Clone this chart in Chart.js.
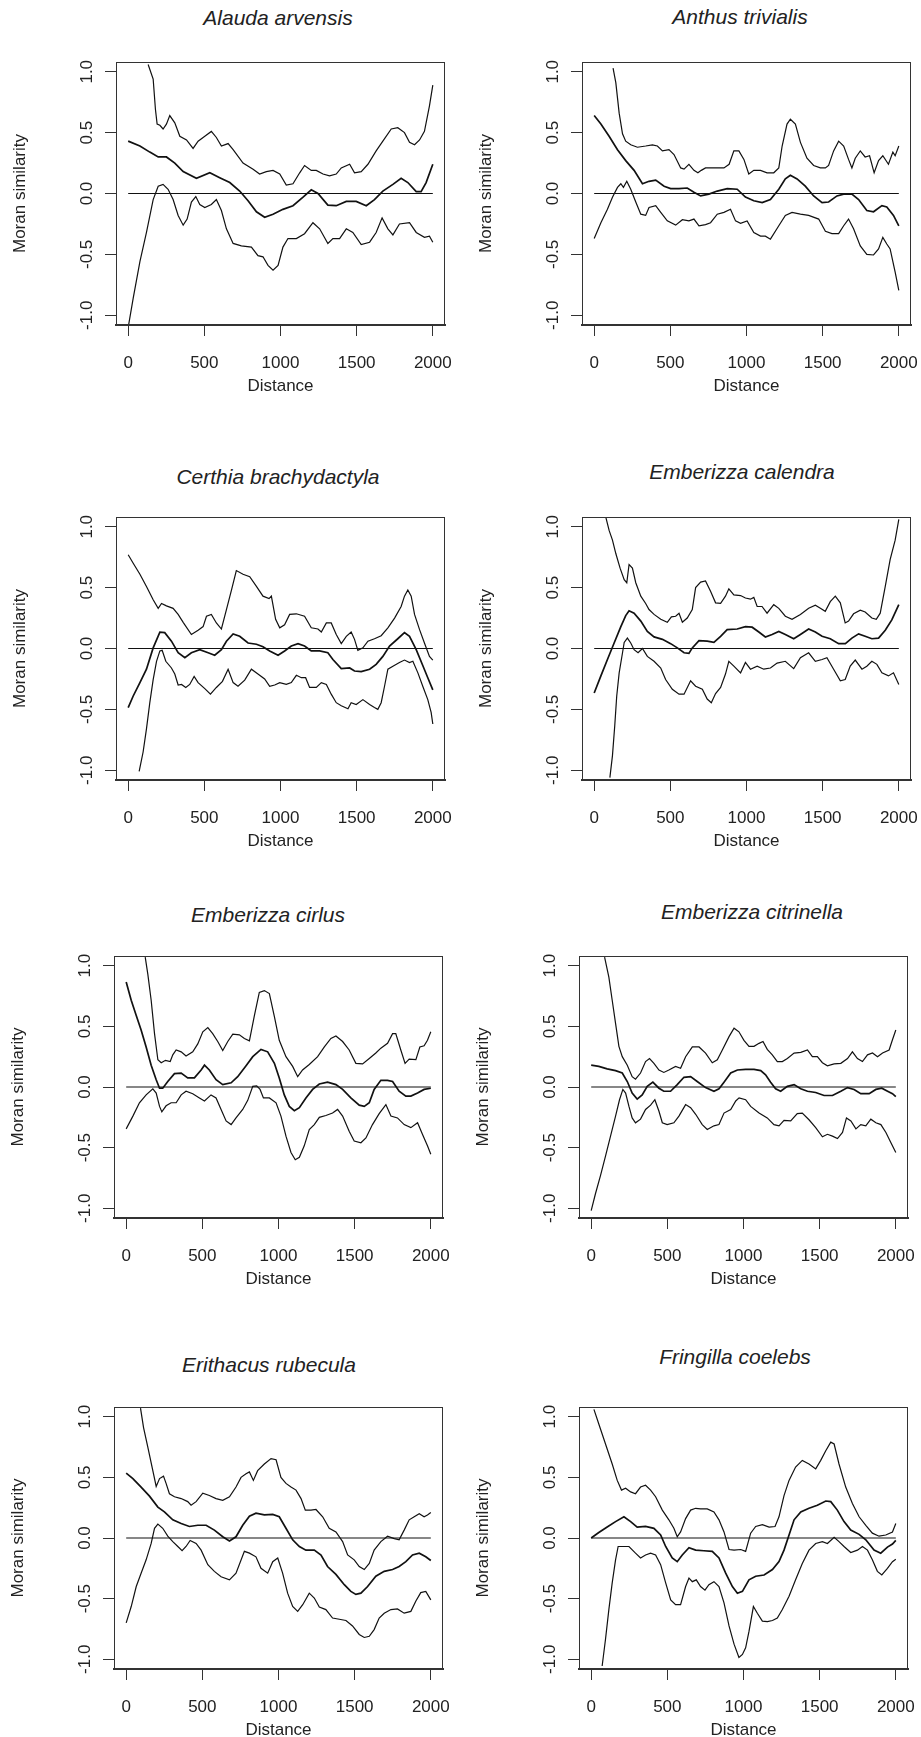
<!DOCTYPE html>
<html><head><meta charset="utf-8">
<script src="https://cdn.jsdelivr.net/npm/chart.js@4.4.1/dist/chart.umd.min.js"></script>
<style>
html,body{margin:0;padding:0;background:#fff;}
body{width:921px;height:1737px;position:relative;overflow:hidden;}
canvas{position:absolute;}
.ttl{position:absolute;width:400px;text-align:center;font:italic 21px 'Liberation Sans',Arial,sans-serif;line-height:24px;color:#222;white-space:nowrap;}
</style></head><body>
<script>
// ---------- data ----------
const species = ['Alauda arvensis','Anthus trivialis','Certhia brachydactyla','Emberizza calendra',
                 'Emberizza cirlus','Emberizza citrinella','Erithacus rubecula','Fringilla coelebs'];
const distanceTicks = [0, 500, 1000, 1500, 2000];
const similarityTicks = [-1, -0.5, 0, 0.5, 1];

// [distance, Moran similarity]
const alaudaUpper = [[131,1.06],[164,0.94],[179,0.69],[190,0.57],[208,0.56],[229,0.53],[251,0.57],[273,0.64],[306,0.58],[339,0.47],[383,0.44],[426,0.37],[459,0.43],[503,0.47],[546,0.51],[579,0.46],[612,0.39],[656,0.41],[689,0.36],[754,0.25],[820,0.20],[863,0.16],[907,0.18],[951,0.19],[995,0.16],[1038,0.07],[1082,0.08],[1126,0.17],[1158,0.23],[1202,0.19],[1235,0.19],[1279,0.16],[1322,0.145],[1366,0.16],[1399,0.21],[1454,0.24],[1486,0.17],[1530,0.18],[1574,0.24],[1628,0.35],[1672,0.43],[1727,0.53],[1770,0.54],[1814,0.50],[1847,0.42],[1880,0.40],[1913,0.44],[1945,0.51],[1978,0.72],[2000,0.89]];
const alaudaMean = [[0,0.43],[77,0.39],[142,0.34],[197,0.30],[251,0.30],[306,0.25],[361,0.18],[448,0.125],[536,0.17],[601,0.13],[667,0.09],[732,0.02],[787,-0.06],[842,-0.15],[896,-0.195],[951,-0.17],[1016,-0.13],[1082,-0.10],[1148,-0.03],[1202,0.03],[1246,0.0],[1311,-0.095],[1366,-0.10],[1432,-0.065],[1497,-0.065],[1563,-0.10],[1617,-0.05],[1672,0.02],[1738,0.075],[1792,0.125],[1836,0.09],[1891,0.015],[1923,0.015],[1956,0.09],[2000,0.24]];
const alaudaLower = [[0,-1.1],[33,-0.86],[77,-0.56],[120,-0.32],[164,-0.05],[197,0.06],[229,0.075],[262,0.035],[295,-0.05],[328,-0.18],[361,-0.26],[387,-0.21],[415,-0.07],[444,-0.025],[470,-0.09],[503,-0.115],[546,-0.09],[579,-0.05],[612,-0.14],[645,-0.29],[689,-0.41],[743,-0.43],[809,-0.44],[852,-0.51],[885,-0.52],[918,-0.59],[951,-0.63],[984,-0.59],[1016,-0.44],[1049,-0.37],[1104,-0.37],[1158,-0.33],[1213,-0.24],[1257,-0.29],[1311,-0.41],[1344,-0.37],[1388,-0.37],[1432,-0.29],[1475,-0.32],[1530,-0.42],[1585,-0.40],[1628,-0.32],[1667,-0.20],[1705,-0.29],[1738,-0.34],[1781,-0.25],[1847,-0.24],[1891,-0.32],[1945,-0.36],[1978,-0.35],[2000,-0.40]];

const anthusUpper = [[124,1.03],[142,0.91],[164,0.66],[186,0.49],[207,0.43],[240,0.40],[284,0.38],[338,0.39],[382,0.40],[415,0.39],[448,0.35],[491,0.36],[524,0.32],[568,0.21],[590,0.20],[622,0.24],[655,0.19],[681,0.17],[703,0.19],[731,0.21],[786,0.21],[852,0.21],[886,0.24],[917,0.35],[950,0.35],[983,0.28],[1015,0.16],[1048,0.19],[1092,0.19],[1135,0.17],[1179,0.17],[1212,0.21],[1234,0.39],[1266,0.57],[1288,0.61],[1321,0.57],[1354,0.42],[1397,0.29],[1441,0.23],[1485,0.21],[1518,0.21],[1539,0.23],[1572,0.35],[1605,0.43],[1638,0.39],[1670,0.28],[1692,0.21],[1714,0.29],[1747,0.35],[1779,0.30],[1808,0.31],[1838,0.17],[1867,0.27],[1895,0.31],[1932,0.24],[1961,0.34],[1976,0.31],[2000,0.39]];
const anthusMean = [[0,0.64],[44,0.57],[98,0.47],[153,0.36],[207,0.27],[262,0.19],[317,0.08],[360,0.10],[404,0.11],[459,0.06],[502,0.04],[557,0.04],[611,0.045],[655,0.01],[699,-0.02],[753,-0.005],[808,0.02],[873,0.04],[939,0.035],[993,-0.03],[1048,-0.06],[1103,-0.075],[1157,-0.05],[1212,0.035],[1255,0.12],[1288,0.15],[1332,0.12],[1386,0.06],[1441,-0.02],[1496,-0.075],[1539,-0.07],[1594,-0.02],[1638,-0.005],[1692,-0.005],[1736,-0.05],[1790,-0.14],[1834,-0.15],[1889,-0.10],[1921,-0.11],[1965,-0.18],[2000,-0.265]];
const anthusLower = [[0,-0.37],[44,-0.24],[87,-0.13],[120,-0.03],[153,0.05],[175,0.08],[192,0.05],[214,0.10],[240,0.035],[273,-0.07],[306,-0.17],[338,-0.18],[360,-0.115],[404,-0.10],[437,-0.155],[480,-0.225],[535,-0.26],[579,-0.215],[622,-0.225],[655,-0.21],[688,-0.265],[731,-0.255],[764,-0.24],[808,-0.17],[852,-0.155],[895,-0.13],[928,-0.225],[961,-0.245],[1004,-0.225],[1048,-0.32],[1092,-0.35],[1124,-0.35],[1157,-0.375],[1212,-0.265],[1255,-0.18],[1299,-0.155],[1354,-0.17],[1408,-0.18],[1474,-0.21],[1518,-0.31],[1561,-0.33],[1605,-0.33],[1638,-0.265],[1670,-0.21],[1703,-0.29],[1747,-0.43],[1790,-0.50],[1834,-0.505],[1867,-0.455],[1895,-0.36],[1921,-0.415],[1943,-0.455],[1976,-0.645],[2000,-0.795]];

const certhiaUpper = [[0,0.77],[33,0.70],[77,0.61],[120,0.51],[164,0.40],[197,0.33],[219,0.37],[251,0.35],[295,0.33],[328,0.28],[361,0.215],[415,0.115],[459,0.15],[492,0.18],[514,0.265],[546,0.28],[579,0.21],[612,0.16],[645,0.32],[678,0.48],[710,0.64],[754,0.61],[798,0.59],[842,0.51],[885,0.43],[925,0.41],[940,0.43],[968,0.24],[995,0.17],[1027,0.195],[1060,0.28],[1104,0.285],[1158,0.265],[1202,0.17],[1246,0.16],[1268,0.135],[1301,0.21],[1333,0.21],[1366,0.115],[1399,0.04],[1432,0.10],[1464,0.135],[1486,0.075],[1508,-0.015],[1541,0.005],[1574,0.06],[1617,0.08],[1661,0.105],[1705,0.17],[1749,0.25],[1792,0.345],[1814,0.43],[1836,0.48],[1858,0.43],[1880,0.28],[1913,0.155],[1945,0.045],[1978,-0.065],[2000,-0.095]];
const certhiaMean = [[0,-0.485],[33,-0.39],[77,-0.28],[120,-0.17],[164,0.005],[208,0.135],[240,0.13],[284,0.06],[328,-0.035],[372,-0.075],[415,-0.035],[470,-0.01],[525,-0.035],[568,-0.055],[612,-0.01],[645,0.06],[689,0.12],[732,0.10],[787,0.045],[842,0.035],[885,0.015],[929,-0.02],[984,-0.055],[1027,-0.02],[1071,0.02],[1115,0.04],[1158,0.02],[1202,-0.02],[1257,-0.02],[1311,-0.035],[1344,-0.09],[1399,-0.165],[1454,-0.16],[1486,-0.185],[1530,-0.19],[1585,-0.17],[1628,-0.13],[1672,-0.065],[1716,0.02],[1770,0.08],[1814,0.13],[1847,0.10],[1891,-0.01],[1934,-0.14],[1967,-0.24],[2000,-0.34]];
const certhiaLower = [[72,-1.01],[98,-0.85],[120,-0.66],[142,-0.445],[164,-0.255],[186,-0.105],[208,-0.02],[223,-0.015],[247,-0.105],[284,-0.16],[306,-0.21],[328,-0.30],[350,-0.295],[378,-0.32],[404,-0.295],[433,-0.23],[459,-0.28],[503,-0.33],[540,-0.375],[579,-0.32],[619,-0.27],[656,-0.17],[689,-0.28],[721,-0.31],[765,-0.26],[809,-0.17],[852,-0.21],[896,-0.25],[929,-0.31],[962,-0.30],[995,-0.28],[1038,-0.295],[1071,-0.28],[1104,-0.22],[1137,-0.24],[1165,-0.24],[1191,-0.32],[1235,-0.32],[1268,-0.28],[1301,-0.295],[1333,-0.375],[1366,-0.445],[1399,-0.47],[1443,-0.495],[1464,-0.445],[1497,-0.46],[1541,-0.42],[1585,-0.46],[1617,-0.485],[1639,-0.50],[1661,-0.445],[1683,-0.31],[1705,-0.17],[1738,-0.145],[1781,-0.115],[1814,-0.095],[1847,-0.115],[1869,-0.105],[1902,-0.20],[1934,-0.31],[1967,-0.42],[1989,-0.525],[2000,-0.62]];

const calendraUpper = [[72,1.1],[98,0.97],[120,0.89],[142,0.78],[170,0.66],[197,0.565],[214,0.54],[229,0.69],[251,0.66],[273,0.54],[306,0.43],[338,0.37],[360,0.32],[393,0.28],[437,0.24],[480,0.215],[507,0.26],[535,0.265],[557,0.29],[579,0.215],[611,0.25],[644,0.32],[666,0.50],[699,0.545],[731,0.555],[764,0.47],[797,0.375],[830,0.37],[862,0.43],[884,0.49],[917,0.44],[961,0.435],[993,0.415],[1026,0.405],[1048,0.42],[1070,0.345],[1102,0.345],[1135,0.29],[1179,0.36],[1212,0.33],[1255,0.265],[1299,0.24],[1354,0.28],[1408,0.33],[1452,0.355],[1485,0.33],[1517,0.305],[1550,0.385],[1583,0.43],[1616,0.375],[1648,0.21],[1670,0.225],[1703,0.285],[1747,0.315],[1779,0.30],[1823,0.25],[1852,0.24],[1878,0.29],[1911,0.51],[1943,0.73],[1976,0.89],[2000,1.06]];
const calendraMean = [[0,-0.365],[44,-0.225],[87,-0.09],[131,0.045],[175,0.18],[207,0.27],[229,0.31],[262,0.29],[306,0.225],[349,0.14],[393,0.095],[448,0.075],[502,0.04],[546,0.005],[590,-0.035],[622,-0.04],[644,0.005],[688,0.065],[742,0.06],[786,0.05],[830,0.10],[873,0.155],[939,0.16],[993,0.18],[1037,0.175],[1081,0.135],[1124,0.095],[1168,0.115],[1212,0.14],[1255,0.115],[1310,0.08],[1354,0.115],[1408,0.16],[1452,0.135],[1496,0.10],[1550,0.08],[1605,0.04],[1649,0.04],[1692,0.085],[1736,0.12],[1779,0.10],[1823,0.08],[1867,0.085],[1911,0.15],[1954,0.235],[2000,0.36]];
const calendraLower = [[103,-1.06],[120,-0.88],[135,-0.635],[148,-0.39],[164,-0.20],[186,-0.035],[197,0.05],[218,0.085],[240,0.045],[262,-0.01],[288,-0.035],[317,0.0],[349,-0.065],[393,-0.105],[437,-0.16],[469,-0.255],[513,-0.335],[557,-0.375],[590,-0.375],[633,-0.265],[666,-0.31],[710,-0.335],[742,-0.415],[769,-0.445],[797,-0.37],[830,-0.32],[862,-0.21],[884,-0.105],[917,-0.145],[961,-0.20],[993,-0.115],[1026,-0.17],[1070,-0.145],[1113,-0.17],[1157,-0.16],[1201,-0.12],[1255,-0.105],[1310,-0.165],[1354,-0.075],[1408,-0.035],[1452,-0.105],[1496,-0.09],[1528,-0.075],[1572,-0.17],[1616,-0.265],[1648,-0.255],[1681,-0.145],[1714,-0.095],[1758,-0.17],[1790,-0.145],[1823,-0.105],[1856,-0.13],[1889,-0.20],[1932,-0.225],[1965,-0.20],[2000,-0.295]];

const cirlusUpper = [[125,1.07],[142,0.93],[164,0.715],[186,0.44],[208,0.225],[230,0.20],[258,0.22],[289,0.21],[306,0.265],[328,0.305],[361,0.29],[393,0.255],[437,0.29],[470,0.355],[503,0.455],[536,0.49],[568,0.44],[601,0.375],[634,0.30],[667,0.375],[700,0.435],[743,0.43],[776,0.40],[809,0.38],[842,0.59],[874,0.78],[907,0.795],[940,0.77],[973,0.58],[1005,0.385],[1049,0.25],[1093,0.17],[1126,0.085],[1158,0.14],[1202,0.185],[1257,0.25],[1301,0.33],[1344,0.40],[1377,0.42],[1421,0.375],[1464,0.305],[1508,0.195],[1552,0.19],[1596,0.235],[1639,0.28],[1672,0.32],[1716,0.36],[1749,0.44],[1770,0.44],[1803,0.305],[1831,0.195],[1858,0.23],[1902,0.225],[1928,0.33],[1956,0.34],[1978,0.385],[2000,0.455]];
const cirlusMean = [[0,0.865],[33,0.715],[66,0.59],[98,0.47],[131,0.33],[164,0.18],[197,0.06],[219,-0.01],[240,-0.01],[273,0.045],[317,0.11],[361,0.115],[404,0.075],[448,0.075],[492,0.14],[514,0.18],[546,0.14],[590,0.06],[634,0.02],[689,0.035],[732,0.085],[787,0.175],[831,0.25],[885,0.31],[929,0.29],[973,0.195],[1005,0.075],[1038,-0.065],[1071,-0.16],[1104,-0.195],[1137,-0.17],[1180,-0.09],[1224,-0.02],[1268,0.025],[1322,0.04],[1377,0.02],[1421,-0.02],[1475,-0.09],[1530,-0.15],[1563,-0.16],[1596,-0.13],[1628,-0.02],[1672,0.055],[1716,0.055],[1749,0.045],[1792,-0.035],[1836,-0.075],[1869,-0.075],[1913,-0.05],[1956,-0.02],[2000,-0.01]];
const cirlusLower = [[0,-0.345],[44,-0.24],[87,-0.13],[131,-0.065],[175,-0.015],[197,-0.05],[219,-0.16],[234,-0.205],[262,-0.155],[295,-0.13],[328,-0.13],[361,-0.065],[393,-0.035],[437,-0.055],[481,-0.09],[514,-0.115],[557,-0.065],[590,-0.09],[623,-0.185],[656,-0.28],[689,-0.31],[721,-0.255],[765,-0.185],[798,-0.11],[831,0.005],[857,0.01],[879,-0.02],[901,-0.09],[940,-0.09],[984,-0.13],[1016,-0.24],[1049,-0.405],[1082,-0.54],[1110,-0.60],[1137,-0.58],[1169,-0.485],[1202,-0.35],[1235,-0.31],[1268,-0.25],[1311,-0.235],[1355,-0.215],[1388,-0.185],[1421,-0.24],[1464,-0.365],[1497,-0.445],[1541,-0.46],[1574,-0.42],[1617,-0.31],[1661,-0.22],[1705,-0.145],[1738,-0.24],[1781,-0.255],[1825,-0.31],[1869,-0.335],[1913,-0.295],[1945,-0.39],[1978,-0.485],[2000,-0.555]];

const citrinellaUpper = [[88,1.07],[116,0.905],[138,0.715],[160,0.525],[182,0.335],[204,0.25],[237,0.18],[269,0.085],[291,0.065],[324,0.115],[357,0.21],[383,0.235],[412,0.195],[445,0.14],[477,0.12],[510,0.14],[554,0.17],[587,0.155],[620,0.25],[664,0.33],[708,0.33],[751,0.28],[795,0.20],[828,0.225],[861,0.305],[905,0.415],[938,0.485],[970,0.455],[1003,0.385],[1036,0.335],[1069,0.335],[1102,0.36],[1128,0.375],[1156,0.31],[1189,0.265],[1222,0.21],[1255,0.21],[1288,0.235],[1332,0.28],[1376,0.285],[1420,0.305],[1452,0.25],[1485,0.25],[1518,0.20],[1551,0.175],[1595,0.19],[1639,0.195],[1683,0.235],[1715,0.29],[1748,0.235],[1781,0.21],[1814,0.265],[1847,0.28],[1880,0.25],[1913,0.28],[1956,0.305],[1978,0.39],[2000,0.47]];
const citrinellaMean = [[0,0.18],[50,0.17],[105,0.15],[160,0.135],[204,0.115],[237,0.045],[269,-0.05],[302,-0.10],[335,-0.065],[368,0.005],[405,0.04],[445,-0.01],[477,-0.035],[521,-0.035],[565,0.02],[609,0.08],[653,0.085],[696,0.045],[751,-0.005],[806,-0.035],[839,-0.015],[872,0.04],[916,0.115],[960,0.14],[1014,0.145],[1069,0.145],[1113,0.135],[1145,0.10],[1178,0.04],[1211,-0.015],[1244,-0.035],[1288,0.005],[1332,0.02],[1376,-0.015],[1420,-0.035],[1474,-0.045],[1529,-0.07],[1584,-0.07],[1639,-0.035],[1683,-0.005],[1726,-0.02],[1770,-0.055],[1825,-0.055],[1869,-0.02],[1908,-0.01],[1946,-0.035],[1978,-0.055],[2000,-0.08]];
const citrinellaLower = [[0,-1.02],[28,-0.88],[61,-0.73],[94,-0.57],[127,-0.405],[160,-0.24],[186,-0.105],[208,-0.02],[226,-0.05],[248,-0.16],[269,-0.255],[291,-0.295],[324,-0.265],[357,-0.185],[390,-0.15],[418,-0.105],[445,-0.20],[467,-0.295],[499,-0.31],[543,-0.295],[576,-0.24],[620,-0.145],[653,-0.17],[686,-0.225],[729,-0.31],[762,-0.35],[806,-0.32],[839,-0.31],[872,-0.215],[916,-0.185],[949,-0.115],[971,-0.09],[1014,-0.105],[1047,-0.16],[1102,-0.215],[1156,-0.255],[1200,-0.31],[1233,-0.32],[1266,-0.275],[1310,-0.28],[1353,-0.22],[1386,-0.215],[1430,-0.27],[1474,-0.335],[1518,-0.41],[1551,-0.39],[1584,-0.405],[1617,-0.425],[1650,-0.375],[1676,-0.255],[1705,-0.28],[1738,-0.345],[1770,-0.31],[1803,-0.32],[1836,-0.265],[1869,-0.295],[1902,-0.31],[1935,-0.375],[1968,-0.46],[2000,-0.54]];

const erithacusUpper = [[94,1.07],[114,0.91],[142,0.75],[170,0.585],[197,0.425],[219,0.49],[245,0.51],[262,0.45],[284,0.365],[317,0.34],[361,0.325],[404,0.30],[426,0.27],[459,0.30],[503,0.37],[546,0.35],[590,0.325],[634,0.31],[678,0.34],[721,0.42],[754,0.50],[787,0.53],[809,0.545],[835,0.475],[863,0.555],[907,0.61],[951,0.655],[984,0.645],[1016,0.50],[1049,0.45],[1082,0.42],[1115,0.395],[1148,0.325],[1176,0.23],[1213,0.23],[1246,0.235],[1290,0.175],[1333,0.08],[1377,0.05],[1421,-0.03],[1454,-0.14],[1497,-0.18],[1530,-0.235],[1563,-0.26],[1596,-0.21],[1628,-0.10],[1672,-0.03],[1716,0.015],[1760,-0.005],[1792,-0.015],[1825,0.065],[1858,0.15],[1891,0.175],[1924,0.20],[1956,0.175],[1978,0.19],[2000,0.21]];
const erithacusMean = [[0,0.535],[44,0.49],[98,0.42],[153,0.345],[208,0.255],[251,0.215],[306,0.15],[361,0.12],[415,0.095],[470,0.105],[525,0.105],[579,0.065],[634,0.01],[678,-0.025],[721,0.01],[765,0.105],[809,0.18],[852,0.205],[907,0.19],[962,0.195],[1005,0.175],[1049,0.08],[1093,-0.015],[1137,-0.07],[1180,-0.10],[1235,-0.10],[1279,-0.14],[1322,-0.235],[1377,-0.30],[1432,-0.385],[1475,-0.44],[1508,-0.465],[1541,-0.455],[1585,-0.40],[1639,-0.315],[1694,-0.275],[1749,-0.26],[1792,-0.235],[1836,-0.195],[1880,-0.14],[1924,-0.125],[1967,-0.155],[2000,-0.185]];
const erithacusLower = [[0,-0.70],[33,-0.565],[66,-0.40],[98,-0.29],[131,-0.18],[164,-0.045],[186,0.08],[208,0.115],[240,0.08],[273,0.015],[306,-0.03],[339,-0.07],[367,-0.105],[393,-0.07],[420,-0.02],[459,-0.045],[492,-0.10],[536,-0.22],[579,-0.275],[623,-0.32],[678,-0.345],[721,-0.29],[776,-0.11],[809,-0.125],[852,-0.155],[885,-0.25],[929,-0.29],[962,-0.195],[995,-0.165],[1027,-0.29],[1060,-0.455],[1093,-0.565],[1126,-0.605],[1159,-0.55],[1202,-0.455],[1235,-0.495],[1268,-0.57],[1311,-0.59],[1355,-0.66],[1399,-0.67],[1443,-0.68],[1486,-0.725],[1530,-0.795],[1563,-0.82],[1596,-0.81],[1628,-0.755],[1661,-0.66],[1694,-0.62],[1738,-0.59],[1781,-0.585],[1825,-0.62],[1869,-0.605],[1902,-0.52],[1934,-0.45],[1967,-0.44],[2000,-0.51]];

const fringillaUpper = [[18,1.06],[50,0.94],[94,0.775],[138,0.61],[171,0.475],[199,0.395],[226,0.41],[259,0.38],[291,0.365],[324,0.42],[357,0.435],[390,0.395],[423,0.34],[467,0.23],[510,0.15],[543,0.08],[565,0.01],[587,0.05],[620,0.16],[653,0.23],[686,0.245],[718,0.24],[762,0.24],[806,0.215],[839,0.15],[872,0.05],[905,-0.095],[938,-0.10],[982,-0.095],[1014,-0.11],[1047,0.04],[1080,0.095],[1124,0.11],[1168,0.09],[1207,0.095],[1233,0.175],[1266,0.35],[1299,0.475],[1342,0.585],[1386,0.64],[1430,0.61],[1474,0.57],[1507,0.64],[1540,0.72],[1573,0.79],[1595,0.775],[1627,0.61],[1671,0.42],[1715,0.285],[1759,0.175],[1803,0.105],[1846,0.04],[1890,0.015],[1934,0.025],[1978,0.05],[2000,0.12]];
const fringillaMean = [[0,0.0],[50,0.045],[105,0.09],[160,0.135],[215,0.175],[259,0.135],[302,0.09],[357,0.095],[412,0.08],[456,0.025],[489,-0.07],[532,-0.165],[565,-0.195],[598,-0.14],[642,-0.08],[686,-0.10],[740,-0.105],[795,-0.11],[839,-0.165],[883,-0.29],[927,-0.40],[960,-0.455],[993,-0.44],[1036,-0.345],[1080,-0.315],[1135,-0.305],[1190,-0.26],[1233,-0.195],[1266,-0.10],[1299,0.025],[1332,0.15],[1376,0.215],[1430,0.245],[1485,0.27],[1540,0.305],[1573,0.30],[1616,0.23],[1660,0.135],[1704,0.065],[1759,0.03],[1803,-0.015],[1857,-0.10],[1901,-0.125],[1945,-0.075],[1978,-0.05],[2000,-0.02]];
const fringillaLower = [[72,-1.055],[94,-0.835],[116,-0.59],[138,-0.37],[160,-0.18],[177,-0.07],[204,-0.07],[248,-0.07],[291,-0.125],[324,-0.165],[357,-0.14],[390,-0.125],[423,-0.14],[456,-0.22],[489,-0.37],[522,-0.51],[554,-0.55],[587,-0.55],[620,-0.40],[642,-0.33],[664,-0.36],[690,-0.345],[718,-0.40],[747,-0.43],[773,-0.385],[806,-0.36],[839,-0.40],[872,-0.535],[905,-0.725],[938,-0.875],[970,-0.985],[993,-0.96],[1014,-0.905],[1036,-0.77],[1065,-0.565],[1091,-0.62],[1124,-0.685],[1157,-0.69],[1190,-0.68],[1222,-0.66],[1255,-0.59],[1299,-0.48],[1342,-0.345],[1386,-0.21],[1430,-0.10],[1474,-0.045],[1518,-0.03],[1551,-0.045],[1595,0.005],[1627,-0.03],[1660,-0.07],[1704,-0.12],[1748,-0.10],[1781,-0.07],[1814,-0.10],[1846,-0.18],[1879,-0.275],[1908,-0.305],[1945,-0.25],[1978,-0.195],[2000,-0.175]];

const seriesByPanel = [
  [alaudaLower, alaudaMean, alaudaUpper],
  [anthusLower, anthusMean, anthusUpper],
  [certhiaLower, certhiaMean, certhiaUpper],
  [calendraLower, calendraMean, calendraUpper],
  [cirlusLower, cirlusMean, cirlusUpper],
  [citrinellaLower, citrinellaMean, citrinellaUpper],
  [erithacusLower, erithacusMean, erithacusUpper],
  [fringillaLower, fringillaMean, fringillaUpper]
];

// ---------- layout (plot box [left, top, right, bottom], title centre) ----------
const layoutBoxes = [
  [116,62,445,325],[582,62,911,325],
  [116,517,445,780],[582,517,911,780],
  [114,956,443,1218],[579,956,908,1218],
  [114,1407,443,1669],[579,1407,908,1669]
];
const titleCentres = [[278,18],[740,17],[278,477],[742,472],[268,915],[752,912],[269,1365],[735,1357]];

Chart.defaults.font.family = "'Liberation Sans', Arial, Helvetica, sans-serif";
Chart.defaults.font.size = 17;
Chart.defaults.color = '#222';

const AXW = 110, AXH = 75, PADT = 10, PADR = 20;
const LINE = '#111', AXC = '#333';

const framePlugin = {
  id: 'frame',
  afterDatasetsDraw(chart) {
    const a = chart.chartArea, c = chart.ctx;
    c.save();
    c.strokeStyle = AXC; c.lineWidth = 1;
    c.strokeRect(Math.round(a.left) + 0.5, Math.round(a.top) + 0.5,
                 Math.round(a.right - a.left) - 1, Math.round(a.bottom - a.top) - 1);
    c.restore();
  }
};

function mk(pts, w) {
  return { data: pts.map(([x, y]) => ({ x, y })), borderColor: LINE, borderWidth: w,
           pointRadius: 0, fill: false, tension: 0 };
}

layoutBoxes.forEach((box, i) => {
  const [L, T, R, B] = box;
  const cv = document.createElement('canvas');
  cv.width = AXW + (R - L) + PADR;
  cv.height = PADT + (B - T) + AXH;
  cv.style.left = (L - AXW) + 'px';
  cv.style.top = (T - PADT) + 'px';
  cv.style.width = cv.width + 'px';
  cv.style.height = cv.height + 'px';
  document.body.appendChild(cv);

  const t = document.createElement('div');
  t.className = 'ttl';
  t.textContent = species[i];
  t.style.left = (titleCentres[i][0] - 200) + 'px';
  t.style.top = (titleCentres[i][1] - 12) + 'px';
  document.body.appendChild(t);

  const [lower, mean, upper] = seriesByPanel[i];
  const zero = [[distanceTicks[0], 0], [distanceTicks[distanceTicks.length - 1], 0]];

  new Chart(cv, {
    type: 'line',
    data: { datasets: [mk(zero, 1.1), mk(lower, 1.2), mk(upper, 1.2), mk(mean, 1.7)] },
    options: {
      responsive: false, animation: false, devicePixelRatio: 1,
      layout: { padding: { left: 0, top: PADT, right: PADR, bottom: 0 } },
      plugins: { legend: { display: false }, tooltip: { enabled: false }, title: { display: false } },
      scales: {
        x: {
          type: 'linear', min: -80, max: 2080,
          afterBuildTicks: s => { s.ticks = distanceTicks.map(v => ({ value: v })); },
          afterFit: s => { s.height = AXH; s.paddingLeft = 0; s.paddingRight = 0; s.paddingTop = 0; s.paddingBottom = 0; },
          ticks: { padding: 17, minRotation: 0, maxRotation: 0, autoSkip: false, color: '#222', callback: v => String(v) },
          grid: { drawOnChartArea: false, drawTicks: true, tickLength: 11, color: AXC, lineWidth: 1 },
          border: { display: true, color: AXC, width: 2 },
          title: { display: true, text: 'Distance', color: '#222', font: { size: 17 }, padding: { top: 0, bottom: 3 } }
        },
        y: {
          type: 'linear', min: -1.08, max: 1.08,
          afterBuildTicks: s => { s.ticks = similarityTicks.map(v => ({ value: v })); },
          afterFit: s => { s.width = AXW; s.paddingLeft = 0; s.paddingRight = 0; s.paddingTop = 0; s.paddingBottom = 0; },
          ticks: { padding: 3, minRotation: 90, maxRotation: 90, crossAlign: 'center', autoSkip: false, color: '#222', callback: v => Number(v).toFixed(1) },
          grid: { drawOnChartArea: false, drawTicks: true, tickLength: 11, color: AXC, lineWidth: 1 },
          border: { display: true, color: AXC, width: 1 },
          title: { display: true, text: 'Moran similarity', color: '#222', font: { size: 17 }, padding: { top: 4, bottom: 0 } }
        }
      }
    },
    plugins: [framePlugin]
  });
});
</script>
</body></html>
